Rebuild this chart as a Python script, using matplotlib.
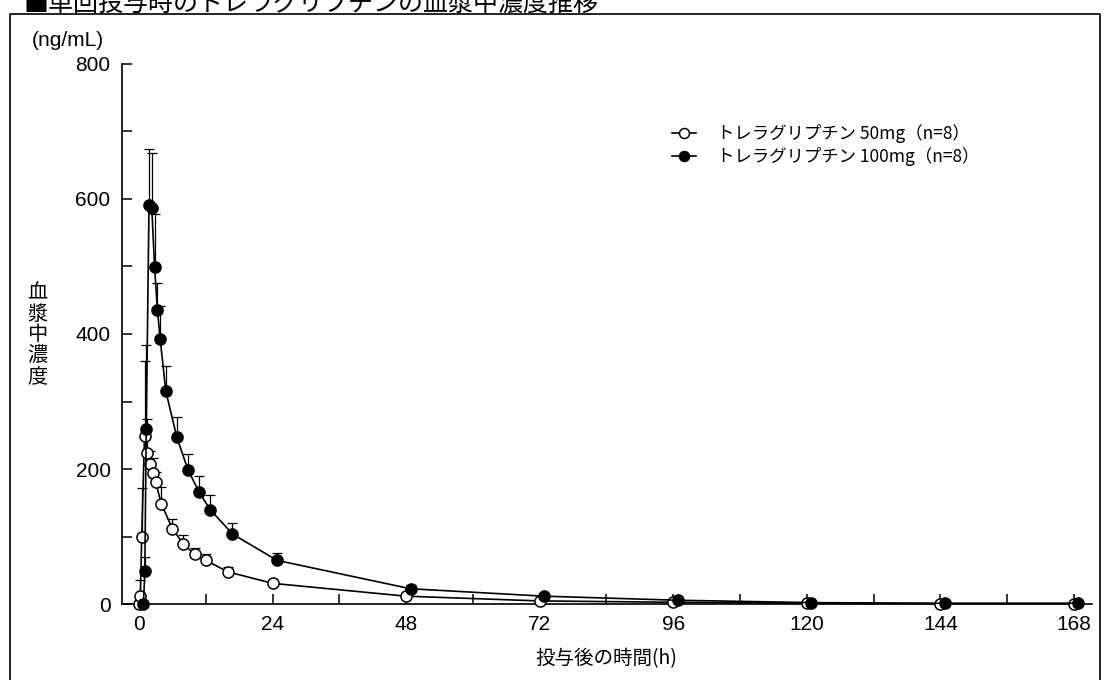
import matplotlib
matplotlib.use('Agg')
import matplotlib.pyplot as plt
import matplotlib.transforms as mtransforms
from matplotlib.lines import Line2D

plt.rcParams['font.family'] = ['Liberation Sans', 'Noto Sans CJK JP', 'DejaVu Sans']
jp = ['Noto Sans CJK JP', 'DejaVu Sans']

# --- data ---
times = [0, 0.25, 0.5, 1, 1.5, 2, 2.5, 3, 4, 6, 8, 10, 12, 16, 24, 48, 72, 96, 120, 144, 168]
conc_50 = [0, 13, 100, 249, 224, 207, 194, 181, 149, 112, 89, 74, 65, 48, 31, 12, 5, 3, 1.5, 1, 1]
sd_50 = [0, 23, 72, 111, 50, 20, 22, 15, 25, 14, 13, 10, 9, 7, 5, 3, 1.5, 1, 0.5, 0.5, 0.5]
conc_100 = [0, 50, 260, 590, 586, 499, 436, 393, 316, 247, 199, 166, 140, 104, 65, 23, 12, 6, 2.5, 1.5, 1.5]
sd_100 = [0, 20, 124, 83, 82, 78, 40, 49, 36, 30, 24, 24, 22, 16, 11, 5, 3, 1.5, 1, 0.5, 0.5]

label_50 = 'トレラグリプチン 50mg（n=8）'
label_100 = 'トレラグリプチン 100mg（n=8）'
x_ticks = [0, 24, 48, 72, 96, 120, 144, 168]
y_ticks = [0, 200, 400, 600, 800]

fig = plt.figure(figsize=(11.04, 6.8), dpi=100)
W, H = 1104, 680

# outer frame
fx0, fx1, fy1 = 10 / W, 1100 / W, 1 - 13.5 / H
fig.add_artist(Line2D([fx0, fx0, fx1, fx1], [-0.01, fy1, fy1, -0.01],
                      transform=fig.transFigure, color='black', lw=1.2))

fig.text(24 / W, 1 - 11 / H, '■単回投与時のトレラグリプチンの血漿中濃度推移',
         fontsize=18, va='baseline', ha='left', family=jp)

ax = fig.add_axes([121.7 / W, 1 - 604.3 / H, (1091.7 - 121.7) / W, (604.3 - 63.5) / H])
ax.set_xlim(-3.1, 171.2)
ax.set_ylim(0, 800)
for s in ['top', 'right']:
    ax.spines[s].set_visible(False)
for s in ['left', 'bottom']:
    ax.spines[s].set_linewidth(1.2)

ax.set_xticks(x_ticks)
ax.set_xticks(range(12, 168, 24), minor=True)
ax.set_yticks(y_ticks)
ax.set_yticks(range(100, 800, 200), minor=True)
ax.tick_params(which='both', direction='in', length=7, width=1.1, labelsize=15, pad=8)

# 100 mg series drawn a few pixels right, as in the original figure
shift = ax.transData + mtransforms.ScaledTranslation(0.045, 0, fig.dpi_scale_trans)

eb50 = ax.errorbar(times, conc_50, yerr=[[0] * len(sd_50), sd_50], fmt='none',
                   ecolor='black', elinewidth=0.9, capsize=3.5, capthick=0.9,
                   zorder=2, clip_on=False)
eb100 = ax.errorbar(times, conc_100, yerr=[[0] * len(sd_100), sd_100], fmt='none',
                    ecolor='black', elinewidth=0.9, capsize=3.5, capthick=0.9,
                    zorder=4, clip_on=False)
for art in list(eb100.lines[1]) + list(eb100.lines[2]):
    art.set_transform(shift)

l50, = ax.plot(times, conc_50, '-o', color='black', lw=1.2, ms=8,
               mfc='white', mec='black', mew=1.1, zorder=3, clip_on=False,
               label=label_50)
l100, = ax.plot(times, conc_100, '-o', color='black', lw=1.2, ms=8,
                mfc='black', mec='black', mew=1.1, zorder=5, clip_on=False,
                label=label_100, transform=shift)

ax.legend(handles=[l50, l100], loc='upper left', frameon=False,
          prop={'family': jp, 'size': 12.5},
          bbox_to_anchor=(672 / W, 1 - 124 / H), bbox_transform=fig.transFigure,
          borderpad=0, borderaxespad=0, handlelength=1.4, handletextpad=1.2,
          labelspacing=0.25, markerscale=0.9)

fig.text(32 / W, 1 - 40 / H, '(ng/mL)', fontsize=15, va='center', ha='left')
fig.text(37 / W, 1 - 335 / H, '\n'.join('血漿中濃度'), fontsize=14.5,
         va='center', ha='center', linespacing=1.0, family=jp)
ax.set_xlabel('投与後の時間(h)', fontsize=14, labelpad=10, family=jp)

fig.savefig('out.png', dpi=100)
